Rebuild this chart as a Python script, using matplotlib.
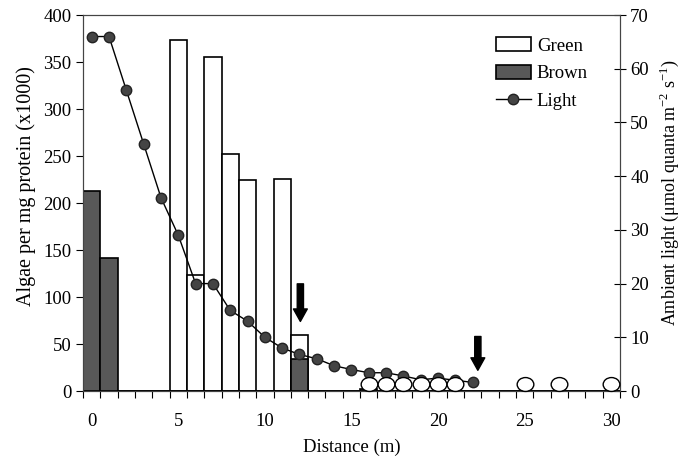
import numpy as np
import matplotlib
matplotlib.use("Agg")
import matplotlib.pyplot as plt
from matplotlib.path import Path
from matplotlib.transforms import Affine2D
from matplotlib.ticker import FixedLocator

plt.rcParams['font.family'] = ['Liberation Serif', 'DejaVu Serif']
plt.rcParams['font.size'] = 13.5

# distance categories (m)
distance = list(range(31))
# algae per mg protein (x1000)
green = {5: 373, 6: 123, 7: 355, 8: 252, 9: 225, 11: 226, 12: 60}
brown = {0: 213, 1: 142, 12: 34, 16: 2}
# ambient light, 0..22 m
light = [66, 66, 56, 46, 36, 29, 20, 20, 15, 13, 10, 8, 6.8, 6.0, 4.7,
         4.0, 3.4, 3.4, 2.8, 2.1, 2.4, 2.0, 1.6]
# sites with no algae (open ovals)
empty_sites = [16, 17, 18, 19, 20, 21, 25, 27, 30]
# arrows: (distance, tip, tail) in left-axis units
arrows = [(12.05, 74, 114), (22.3, 22, 58)]

green_vals = [green.get(d, 0) for d in distance]
brown_vals = [brown.get(d, 0) for d in distance]

fig = plt.figure(figsize=(6.98, 4.63), dpi=100)
ax1 = fig.add_axes([0.119, 0.1555, 0.769, 0.812])
ax2 = ax1.twinx()

ax1.bar(distance, green_vals, width=1.0, color='white', edgecolor='black',
        linewidth=1.2, label='Green', zorder=2)
ax1.bar(distance, brown_vals, width=1.0, color='#585858', edgecolor='black',
        linewidth=1.2, label='Brown', zorder=3)

ax2.plot(distance[:len(light)], light, '-o', color='black', lw=1.0,
         markersize=7.5, markerfacecolor='#444444', markeredgecolor='#222222',
         label='Light', zorder=4)

# ovals and arrows go on the top axes, but in left-axis units
oval = Path.unit_circle().transformed(Affine2D().scale(1.2, 1.0))
ax2.plot(empty_sites, [7] * len(empty_sites), linestyle='none', marker=oval,
         markersize=12, markerfacecolor='white', markeredgecolor='black',
         markeredgewidth=1.0, clip_on=False, zorder=5, transform=ax1.transData)

for x, tip, tail in arrows:
    ax2.annotate('', xy=(x, tip), xytext=(x, tail),
                 xycoords=ax1.transData, textcoords=ax1.transData,
                 arrowprops=dict(arrowstyle='simple,head_length=0.9,head_width=1.0,tail_width=0.45',
                                 color='black', mutation_scale=10, shrinkA=0, shrinkB=0),
                 zorder=6)

ax1.set_xlim(-0.5, 30.5)
ax1.set_ylim(0, 400)
ax2.set_ylim(0, 70)
ax1.set_yticks(np.arange(0, 401, 50))
ax2.set_yticks(np.arange(0, 71, 10))
ax1.set_xticks(range(0, 31, 5))
ax1.xaxis.set_minor_locator(FixedLocator(np.arange(-0.5, 31, 1)))
ax1.tick_params(axis='x', which='major', length=0, pad=16)
ax1.tick_params(axis='x', which='minor', length=5, direction='out', width=0.8)
ax1.tick_params(axis='y', length=5, direction='out', width=0.8)
ax2.tick_params(axis='y', length=8, direction='inout', width=0.8)

for ax in (ax1, ax2):
    for s in ax.spines.values():
        s.set_color('#444444')
        s.set_linewidth(0.8)

ax1.set_xlabel('Distance (m)', labelpad=6)
ax1.set_ylabel('Algae per mg protein (x1000)', fontsize=14.5)
ax1.yaxis.set_label_coords(-0.087, 0.545)
ax2.set_ylabel(r'Ambient light ($\mathregular{\mu}$mol quanta m$^{\mathregular{-2}}$ s$^{\mathregular{-1}}$)',
               fontsize=13)
ax2.yaxis.set_label_coords(1.071, 0.527)

h1, l1 = ax1.get_legend_handles_labels()
h2, l2 = ax2.get_legend_handles_labels()
ax2.legend(h1 + h2, l1 + l2, loc='upper right', bbox_to_anchor=(0.972, 0.986),
           frameon=False, handlelength=1.9, handleheight=0.75, labelspacing=0.55,
           handletextpad=0.3, fontsize=13.5)

fig.savefig('out.png', dpi=100)
